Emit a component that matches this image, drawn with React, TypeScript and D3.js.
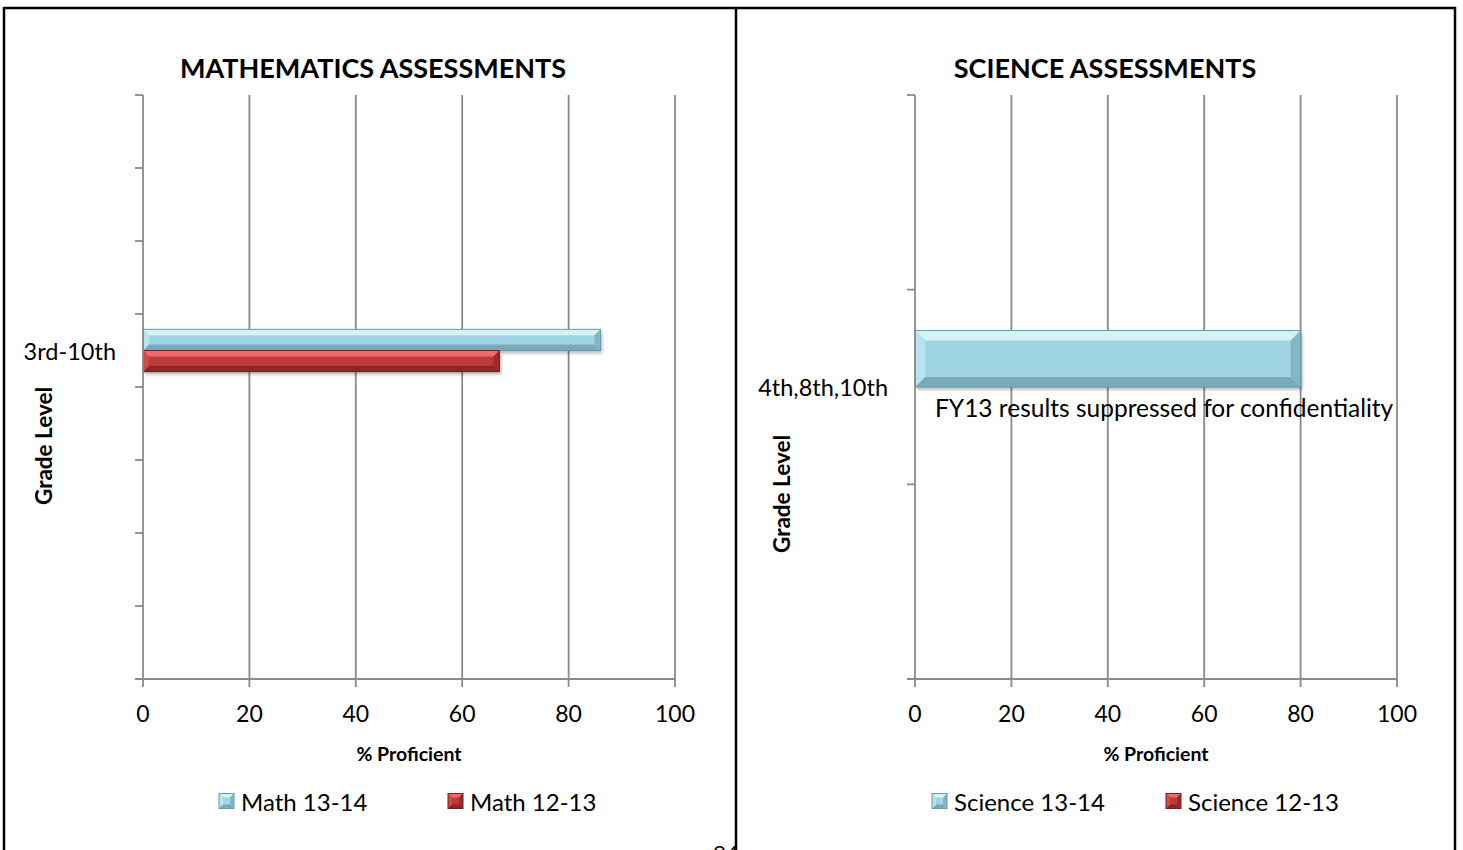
import React from 'react';
import * as d3 from 'd3';

// categories are listed bottom to top, like the category axis
const mathCategories = ['', '', '', '', '3rd-10th', '', '', ''];
const math1314 = [null, null, null, null, 86, null, null, null];
const math1213 = [null, null, null, null, 67, null, null, null];

const scienceCategories = ['', '4th,8th,10th', ''];
const science1314 = [null, 80, null];
const science1213 = [null, null, null];

const xTicks = [0, 20, 40, 60, 80, 100];

const FONT = 'Lato, "Open Sans", sans-serif';
const GRID = '#8a8a8a';

const cyan = { light: '#d4f3f9', base: '#a0d6e4', mid: '#b6e3ee', dark: '#78aab9', line: '#6a98a6' };
const red = { light: '#f26b6b', base: '#bd3b3b', mid: '#d04a4a', dark: '#8a2828', line: '#6e2020' };

type Tone = typeof cyan;

interface Series {
  name: string;
  values: (number | null)[];
  tone: Tone;
}

const BevelRect: React.FC<{ x: number; y: number; w: number; h: number; tone: Tone; bevel: number; shadow?: boolean }> = ({
  x, y, w, h, tone, bevel, shadow = true,
}) => {
  const b = Math.min(bevel, h / 2, w / 2);
  const x1 = x + w;
  const y1 = y + h;
  const pts = (p: number[][]) => p.map((q) => q.join(',')).join(' ');
  return (
    <g>
      {shadow && <rect x={x + 2} y={y + 3} width={w} height={h} fill="#000" opacity={0.25} filter="url(#soft)" />}
      <rect x={x} y={y} width={w} height={h} fill={tone.base} />
      <polygon points={pts([[x, y], [x1, y], [x1 - b, y + b], [x + b, y + b]])} fill={tone.light} />
      <polygon points={pts([[x, y1], [x1, y1], [x1 - b, y1 - b], [x + b, y1 - b]])} fill={tone.dark} />
      <polygon points={pts([[x, y], [x + b, y + b], [x + b, y1 - b], [x, y1]])} fill={tone.mid} />
      <polygon points={pts([[x1, y], [x1 - b, y + b], [x1 - b, y1 - b], [x1, y1]])} fill={tone.dark} opacity={0.7} />
      <rect x={x} y={y} width={w} height={h} fill="none" stroke={tone.line} strokeWidth={1} />
    </g>
  );
};

interface ChartProps {
  left: number;
  right: number;
  top: number;
  bottom: number;
  title: string;
  titleX: number;
  categories: string[];
  series: Series[];
  yTitleX: number;
  yTitleY: number;
  legendX: number[];
  note?: { text: string; x: number; y: number };
}

const BarPanel: React.FC<ChartProps> = ({
  left, right, top, bottom, title, titleX, categories, series, yTitleX, yTitleY, legendX, note,
}) => {
  const x = d3.scaleLinear().domain([0, 100]).range([left, right]);
  const idx = categories.map((_, i) => String(i));
  const y = d3.scaleBand().domain(idx).range([bottom, top]).padding(0);
  const bw = y.bandwidth();
  const inner = d3
    .scaleBand()
    .domain(series.map((s) => s.name))
    .range([bw * 0.21, bw * 0.79])
    .padding(0);
  const boundaries = d3.range(categories.length + 1).map((i) => bottom - i * bw);
  const xMid = (left + right) / 2;

  return (
    <g>
      <text x={titleX} y={67} textAnchor="middle" dominantBaseline="central" fontFamily={FONT} fontWeight={700} fontSize={27}>
        {title}
      </text>

      {/* vertical gridlines */}
      {xTicks.slice(1).map((t) => (
        <line key={t} x1={x(t)} x2={x(t)} y1={top} y2={bottom} stroke={GRID} strokeWidth={1.8} />
      ))}

      {/* bars */}
      {categories.map((_, ci) =>
        series.map((s) => {
          const v = s.values[ci];
          if (v == null) return null;
          const barTop = (y(String(ci)) as number) + (inner(s.name) as number);
          return (
            <BevelRect
              key={s.name + ci}
              x={x(0)}
              y={barTop}
              w={x(v) - x(0)}
              h={inner.bandwidth()}
              tone={s.tone}
              bevel={Math.max(6, Math.min(10, inner.bandwidth() * 0.18))}
            />
          );
        })
      )}

      {/* category axis */}
      <line x1={left} x2={left} y1={top} y2={bottom} stroke={GRID} strokeWidth={1.8} />
      {boundaries.map((b, i) => (
        <line key={i} x1={left - 8} x2={left} y1={b} y2={b} stroke={GRID} strokeWidth={1.8} />
      ))}
      {categories.map((c, i) =>
        c ? (
          <text
            key={i}
            x={left - 27}
            y={(y(String(i)) as number) + bw / 2}
            textAnchor="end"
            dominantBaseline="central"
            fontFamily={FONT}
            fontSize={23.5}
          >
            {c}
          </text>
        ) : null
      )}

      {/* value axis */}
      <line x1={left - 8} x2={right} y1={bottom} y2={bottom} stroke={GRID} strokeWidth={1.8} />
      {xTicks.map((t) => (
        <g key={t}>
          <line x1={x(t)} x2={x(t)} y1={bottom} y2={bottom + 8} stroke={GRID} strokeWidth={1.8} />
          <text x={x(t)} y={bottom + 34} textAnchor="middle" dominantBaseline="central" fontFamily={FONT} fontSize={23}>
            {t}
          </text>
        </g>
      ))}

      <text x={xMid} y={bottom + 74} textAnchor="middle" dominantBaseline="central" fontFamily={FONT} fontWeight={700} fontSize={19.5}>
        % Proficient
      </text>
      <text
        transform={`translate(${yTitleX},${yTitleY}) rotate(-90)`}
        textAnchor="middle"
        dominantBaseline="central"
        fontFamily={FONT}
        fontWeight={700}
        fontSize={22.5}
      >
        Grade Level
      </text>

      {note && (
        <text x={note.x} y={note.y} dominantBaseline="central" fontFamily={FONT} fontSize={24.5}>
          {note.text}
        </text>
      )}

      {/* legend */}
      {series.map((s, i) => (
        <g key={s.name} transform={`translate(${legendX[i]},${801})`}>
          <BevelRect x={0} y={-7.5} w={15} h={15} tone={s.tone} bevel={4} shadow={false} />
          <text x={22} y={0} dominantBaseline="central" fontFamily={FONT} fontSize={24}>
            {s.name}
          </text>
        </g>
      ))}
    </g>
  );
};

export default function App() {
  const mathSeries: Series[] = [
    { name: 'Math 13-14', values: math1314, tone: cyan },
    { name: 'Math 12-13', values: math1213, tone: red },
  ];
  const scienceSeries: Series[] = [
    { name: 'Science 13-14', values: science1314, tone: cyan },
    { name: 'Science 12-13', values: science1213, tone: red },
  ];

  return (
    <svg
      width={1463}
      height={850}
      style={{ position: 'absolute', left: 0, top: 0, background: '#fff' }}
      viewBox="0 0 1463 850"
    >
      <defs>
        <filter id="soft" x="-10%" y="-50%" width="120%" height="200%">
          <feGaussianBlur stdDeviation="1.5" />
        </filter>
      </defs>
      <rect width={1463} height={850} fill="#fff" />

      {/* page table borders */}
      <line x1={4} x2={1456} y1={8} y2={8} stroke="#000" strokeWidth={2.5} />
      <line x1={4} x2={4} y1={7} y2={850} stroke="#000" strokeWidth={2.5} />
      <line x1={736} x2={736} y1={7} y2={850} stroke="#000" strokeWidth={2.5} />
      <line x1={1455} x2={1455} y1={7} y2={850} stroke="#000" strokeWidth={2.5} />

      <BarPanel
        left={143}
        right={675}
        top={95}
        bottom={679}
        title="MATHEMATICS ASSESSMENTS"
        titleX={373}
        categories={mathCategories}
        series={mathSeries}
        yTitleX={43}
        yTitleY={446}
        legendX={[219, 448]}
      />
      <BarPanel
        left={915}
        right={1397}
        top={95}
        bottom={679}
        title="SCIENCE ASSESSMENTS"
        titleX={1105}
        categories={scienceCategories}
        series={scienceSeries}
        yTitleX={781}
        yTitleY={494}
        legendX={[932, 1166]}
        note={{ text: 'FY13 results suppressed for confidentiality', x: 935, y: 407 }}
      />

      <text x={726} y={861} textAnchor="middle" fontFamily={FONT} fontSize={22}>
        94
      </text>
    </svg>
  );
}
